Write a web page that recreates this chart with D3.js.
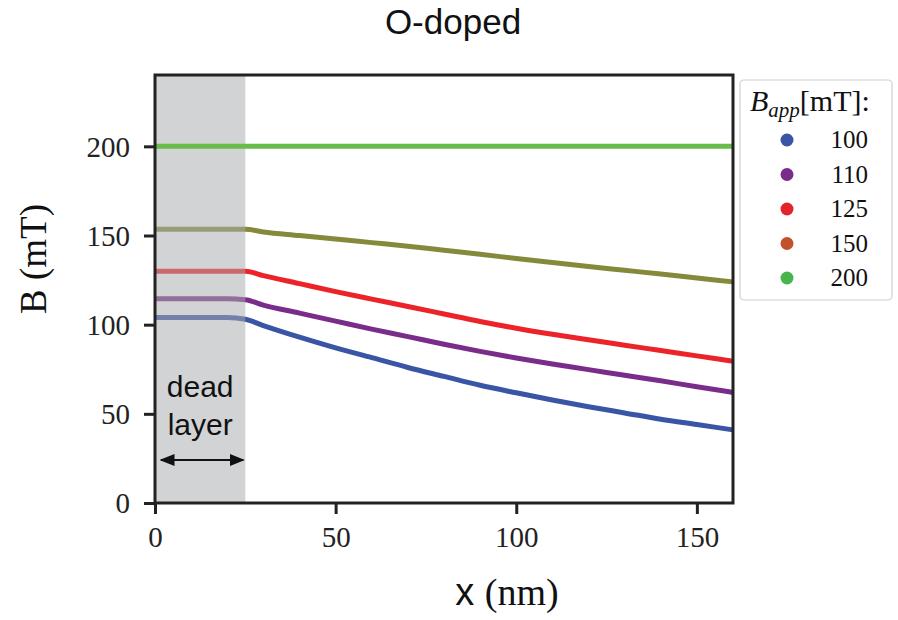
<!DOCTYPE html>
<html>
<head>
<meta charset="utf-8">
<script src="https://cdn.jsdelivr.net/npm/d3@7"></script>
<style>
  body { margin: 0; background: #fff; }
  svg { display: block; }
</style>
</head>
<body>
<div id="chart"></div>
<script>
// depth (nm)
var xs = [0, 10, 20, 25, 30, 40, 50, 60, 70, 80, 90, 100, 110, 120, 130, 140, 150, 160]
var b100 = [104, 104, 104, 103, 99.5, 93, 87, 81.5, 76, 71, 66, 61.8, 57.8, 54, 50.5, 47, 44, 41]
var b110 = [114.5, 114.5, 114.5, 114, 111, 106.5, 102, 97.5, 93.3, 89, 85, 81.3, 77.9, 74.8, 71.6, 68.5, 65.2, 62]
var b125 = [130, 130, 130, 130, 127.5, 123, 118.5, 114.3, 110.2, 106, 101.8, 98, 94.6, 91.5, 88.5, 85.5, 82.5, 79.5]
var b150 = [153.5, 153.5, 153.5, 153.5, 152, 150, 148, 146, 144, 141.7, 139.5, 137.1, 134.8, 132.6, 130.5, 128.4, 126.2, 124]
var b200 = [200, 200, 200, 200, 200, 200, 200, 200, 200, 200, 200, 200, 200, 200, 200, 200, 200, 200]
var legendLabels = ['100', '110', '125', '150', '200']
var xTicks = [0, 50, 100, 150]
var yTicks = [0, 50, 100, 150, 200]
var deadLayer = 25

var lineColors = ['#3a55a6', '#7a2c8a', '#ec2328', '#858a3b', '#68bd4a']
var legendColors = ['#3a55a6', '#7a2c8a', '#e3242b', '#c1522b', '#47b54c']

var width = 898, height = 620
var margin = {top: 75, left: 155, right: 165, bottom: 117}

var svg = d3.select('#chart').append('svg')
  .attr('width', width)
  .attr('height', height)

var x = d3.scaleLinear().domain([0, 160]).range([margin.left, width - margin.right])
var y = d3.scaleLinear().domain([0, 240]).range([height - margin.bottom, margin.top])

var line = d3.line()
  .x(function(d) { return x(d[0]) })
  .y(function(d) { return y(d[1]) })
  .curve(d3.curveMonotoneX)

var series = [b100, b110, b125, b150]
var plot = svg.append('g')

series.forEach(function(s, i) {
  plot.append('path')
    .datum(xs.map(function(v, j) { return [v, s[j]] }))
    .attr('d', line)
    .attr('fill', 'none')
    .attr('stroke', lineColors[i])
    .attr('stroke-width', 5)
})

// dead layer shading
plot.append('rect')
  .attr('x', x(0))
  .attr('y', y(240))
  .attr('width', x(deadLayer) - x(0))
  .attr('height', y(0) - y(240))
  .attr('fill', '#a9abaf')
  .attr('opacity', 0.52)

plot.append('path')
  .datum(xs.map(function(v, j) { return [v, b200[j]] }))
  .attr('d', line)
  .attr('fill', 'none')
  .attr('stroke', lineColors[4])
  .attr('stroke-width', 5)

// annotation
var sans = "'Liberation Sans', Arial, sans-serif"
var serif = "'Liberation Serif', 'Times New Roman', serif"
var midDead = (x(0) + x(deadLayer)) / 2
svg.append('text').attr('x', midDead).attr('y', 397)
  .attr('text-anchor', 'middle').attr('font-family', sans).attr('font-size', 30)
  .attr('fill', '#111').text('dead')
svg.append('text').attr('x', midDead).attr('y', 435)
  .attr('text-anchor', 'middle').attr('font-family', sans).attr('font-size', 30)
  .attr('fill', '#111').text('layer')

var defs = svg.append('defs')
defs.append('marker').attr('id', 'ah').attr('viewBox', '0 0 10 10')
  .attr('refX', 9).attr('refY', 5)
  .attr('orient', 'auto-start-reverse').attr('markerUnits', 'userSpaceOnUse')
  .attr('markerWidth', 15).attr('markerHeight', 15)
  .append('path').attr('d', 'M0,1 L10,5 L0,9 Z').attr('fill', '#111')
svg.append('line')
  .attr('x1', x(0) + 6).attr('x2', x(deadLayer) - 2)
  .attr('y1', 460).attr('y2', 460)
  .attr('stroke', '#111').attr('stroke-width', 2)
  .attr('marker-start', 'url(#ah)').attr('marker-end', 'url(#ah)')

// axes
var xAxis = svg.append('g')
  .attr('transform', 'translate(0,' + y(0) + ')')
  .call(d3.axisBottom(x).tickValues(xTicks).tickSize(11).tickPadding(12))
var yAxis = svg.append('g')
  .attr('transform', 'translate(' + x(0) + ',0)')
  .call(d3.axisLeft(y).tickValues(yTicks).tickSize(11).tickPadding(14))

;[xAxis, yAxis].forEach(function(a) {
  a.select('.domain').remove()
  a.selectAll('line').attr('stroke', '#222').attr('stroke-width', 3)
  a.selectAll('text').attr('font-family', serif).attr('font-size', 29).attr('fill', '#222')
})
yAxis.selectAll('text').attr('dy', '0.34em')

// frame
svg.append('rect')
  .attr('x', x(0)).attr('y', y(240))
  .attr('width', x(160) - x(0)).attr('height', y(0) - y(240))
  .attr('fill', 'none').attr('stroke', '#222').attr('stroke-width', 3)

// titles
svg.append('text').attr('x', 453).attr('y', 34)
  .attr('text-anchor', 'middle').attr('font-family', sans).attr('font-size', 35)
  .attr('fill', '#111').text('O-doped')

var xl = svg.append('text').attr('x', 507).attr('y', 605)
  .attr('text-anchor', 'middle').attr('font-size', 38).attr('fill', '#111')
xl.append('tspan').attr('font-family', sans).text('x ')
xl.append('tspan').attr('font-family', serif).text('(nm)')

svg.append('text')
  .attr('transform', 'translate(46,' + ((y(0) + y(240)) / 2 - 30) + ') rotate(-90)')
  .attr('text-anchor', 'middle').attr('font-family', serif).attr('font-size', 37)
  .attr('fill', '#111').text('B (mT)')

// legend
var lg = svg.append('g').attr('transform', 'translate(740,80)')
lg.append('rect').attr('width', 152).attr('height', 220).attr('rx', 4)
  .attr('fill', '#fff').attr('stroke', '#d0d0d0').attr('stroke-width', 1.2)
var lt = lg.append('text').attr('x', 10).attr('y', 31)
  .attr('font-family', serif).attr('font-size', 30).attr('fill', '#111')
lt.append('tspan').attr('font-style', 'italic').text('B')
lt.append('tspan').attr('font-style', 'italic').attr('font-size', 21).attr('dy', 6).text('app')
lt.append('tspan').attr('dy', -6).text('[mT]:')

legendLabels.forEach(function(l, i) {
  var yy = 60 + i * 34.5
  lg.append('circle').attr('cx', 47).attr('cy', yy).attr('r', 6.5)
    .attr('fill', legendColors[i])
  lg.append('text').attr('x', 128).attr('y', yy + 8)
    .attr('text-anchor', 'end').attr('font-family', serif).attr('font-size', 25)
    .attr('fill', '#111').text(l)
})
</script>
</body>
</html>
